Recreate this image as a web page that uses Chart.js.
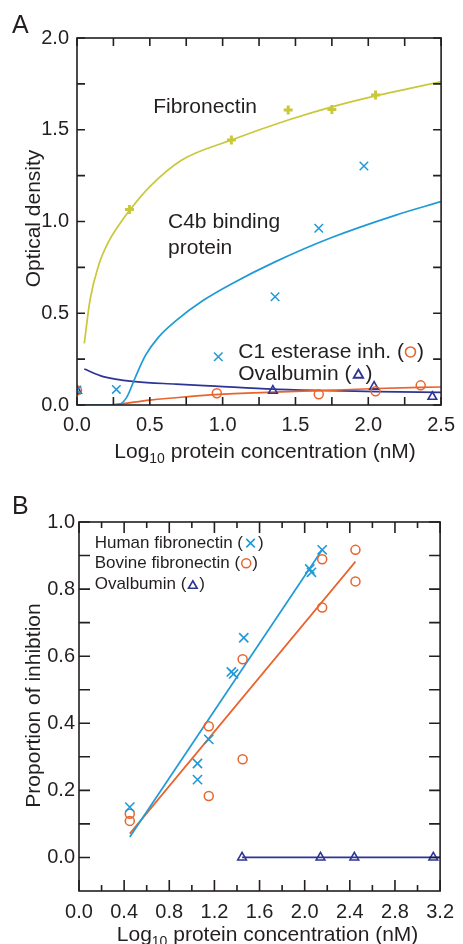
<!DOCTYPE html>
<html>
<head>
<meta charset="utf-8">
<script src="https://cdn.jsdelivr.net/npm/chart.js@4.4.1/dist/chart.umd.min.js"></script>
<style>
  html, body { margin: 0; padding: 0; background: #fff; }
  #wrapA { position: absolute; left: 0; top: 0; width: 463px; height: 470px; }
  #wrapB { position: absolute; left: 0; top: 470px; width: 463px; height: 474px; }
</style>
</head>
<body>
<div id="wrapA"><canvas id="chartA" width="463" height="470"></canvas></div>
<div id="wrapB"><canvas id="chartB" width="463" height="474"></canvas></div>
<script>
// ---- Panel A: measured points ----
const aFnX = [0.36, 1.06, 1.45, 1.75, 2.05];
const aFnY = [1.066, 1.444, 1.608, 1.61, 1.69];
const aC4X = [0, 0.27, 0.97, 1.36, 1.66, 1.97];
const aC4Y = [0.082, 0.085, 0.263, 0.59, 0.963, 1.302];
const aC1X = [0, 0.96, 1.66, 2.05, 2.36];
const aC1Y = [0.08, 0.064, 0.058, 0.075, 0.107];
const aOvX = [0, 1.345, 2.04, 2.44];
const aOvY = [0.078, 0.078, 0.1, 0.045];

// ---- Panel A: fitted curves ----
const aFnFitX = [0.05, 0.09, 0.15, 0.22, 0.3, 0.36, 0.5, 0.72, 1.06, 1.45, 1.75, 2.05, 2.5];
const aFnFitY = [0.336, 0.575, 0.765, 0.895, 0.995, 1.06, 1.19, 1.335, 1.444, 1.553, 1.625, 1.685, 1.762];
const aC4FitX = [0.05, 0.28, 0.34, 0.4, 0.47, 0.56, 0.68, 0.87, 1.06, 1.36, 1.74, 2.19, 2.5];
const aC4FitY = [0, 0, 0.04, 0.15, 0.27, 0.37, 0.46, 0.572, 0.66, 0.78, 0.91, 1.035, 1.108];
const aC1FitX = [0.05, 0.2, 0.5, 0.75, 0.95, 1.35, 1.74, 2.06, 2.5];
const aC1FitY = [0, 0, 0.027, 0.045, 0.057, 0.07, 0.08, 0.09, 0.098];
const aOvFitX = [0.05, 0.18, 0.4, 0.68, 0.95, 1.35, 1.75, 2.06, 2.5];
const aOvFitY = [0.196, 0.155, 0.127, 0.114, 0.103, 0.087, 0.078, 0.073, 0.069];

// ---- Panel A: ticks ----
const aXTicks = [0, 0.5, 1.0, 1.5, 2.0, 2.5];
const aXMinor = [0.25, 0.75, 1.25, 1.75, 2.25];
const aYTicks = [0, 0.5, 1.0, 1.5, 2.0];
const aYMinor = [0.25, 0.75, 1.25, 1.75];

// ---- Panel B: measured points ----
const bHuX = [0.45, 1.05, 1.05, 1.15, 1.35, 1.37, 1.46, 2.045, 2.06, 2.155];
const bHuY = [0.15, 0.28, 0.232, 0.352, 0.553, 0.547, 0.655, 0.86, 0.85, 0.917];
const bBoX = [0.45, 0.45, 1.15, 1.15, 1.45, 1.45, 2.155, 2.155, 2.45, 2.45];
const bBoY = [0.13, 0.109, 0.391, 0.183, 0.293, 0.591, 0.889, 0.745, 0.917, 0.823];
const bOvX = [1.445, 2.14, 2.44, 3.14];
const bOvY = [0, 0, 0, 0];

// ---- Panel B: fitted lines ----
const bHuFitX = [0.45, 2.155];
const bHuFitY = [0.061, 0.917];
const bBoFitX = [0.45, 2.45];
const bBoFitY = [0.071, 0.882];
const bOvFitX = [1.445, 3.2];
const bOvFitY = [0, 0];

// ---- Panel B: ticks ----
const bXTicks = [0, 0.4, 0.8, 1.2, 1.6, 2.0, 2.4, 2.8, 3.2];
const bXMinor = [0.2, 0.6, 1.0, 1.4, 1.8, 2.2, 2.6, 3.0];
const bYTicks = [0, 0.2, 0.4, 0.6, 0.8, 1.0];
const bYMinor = [0.1, 0.3, 0.5, 0.7, 0.9];

const FONT = "'Liberation Sans', Arial, Helvetica, sans-serif";
const INK = '#231f20';
const YEL = '#c8c83a';
const BLU = '#1f9ad6';
const ORG = '#e8642c';
const NAV = '#2e3494';

function pts(xs, ys) { return xs.map((x, i) => ({ x: x, y: ys[i] })); }

function markerSet(label, xs, ys, color, style, r, w) {
  return {
    type: 'scatter', label: label, data: pts(xs, ys), order: 0,
    pointStyle: style, pointRadius: r, pointBorderWidth: w,
    borderColor: color, backgroundColor: 'rgba(0,0,0,0)', showLine: false
  };
}

function curveSet(label, xs, ys, color) {
  return {
    type: 'line', label: label, data: pts(xs, ys), order: 1,
    borderColor: color, borderWidth: 1.7, pointRadius: 0,
    cubicInterpolationMode: 'monotone', fill: false
  };
}

function drawLabel(ctx, scales, lab) {
  let px = scales.x.getPixelForValue(lab.x);
  const py = scales.y.getPixelForValue(lab.y);
  ctx.font = lab.size + 'px ' + FONT;
  ctx.textBaseline = 'middle';
  ctx.textAlign = 'left';
  lab.parts.forEach(p => {
    if (typeof p === 'string') {
      ctx.fillStyle = INK;
      ctx.fillText(p, px, py);
      px += ctx.measureText(p).width;
    } else {
      ctx.save();
      ctx.strokeStyle = p.color;
      ctx.fillStyle = 'rgba(0,0,0,0)';
      ctx.lineWidth = p.w;
      Chart.helpers.drawPoint(ctx, { pointStyle: p.style, radius: p.r, borderWidth: p.w, rotation: 0 },
        px + p.r + 1.5, py + (p.dy || 0));
      ctx.restore();
      px += p.r * 2 + 3;
    }
  });
}

// frame, inward ticks on all sides, titles and in-plot text
const framePlugin = {
  id: 'frame',
  afterDatasetsDraw(chart, args, o) {
    const ctx = chart.ctx;
    const a = chart.chartArea;
    const sx = chart.scales.x, sy = chart.scales.y;
    ctx.save();
    ctx.strokeStyle = INK;
    ctx.lineWidth = 1.6;
    ctx.strokeRect(a.left, a.top, a.right - a.left, a.bottom - a.top);
    ctx.beginPath();
    const xt = (vals, len) => vals.forEach(v => {
      const p = sx.getPixelForValue(v);
      ctx.moveTo(p, a.bottom); ctx.lineTo(p, a.bottom - len);
      ctx.moveTo(p, a.top); ctx.lineTo(p, a.top + len);
    });
    const yt = (vals, len) => vals.forEach(v => {
      const p = sy.getPixelForValue(v);
      ctx.moveTo(a.left, p); ctx.lineTo(a.left + len, p);
      ctx.moveTo(a.right, p); ctx.lineTo(a.right - len, p);
    });
    xt(o.xMajor, o.xMajorLen); xt(o.xMinor, o.xMinorLen);
    yt(o.yMajor, o.yMajorLen); yt(o.yMinor, o.yMinorLen);
    ctx.stroke();

    // panel letter
    ctx.fillStyle = INK;
    ctx.font = o.letterSize + 'px ' + FONT;
    ctx.textAlign = 'left';
    ctx.textBaseline = 'alphabetic';
    ctx.fillText(o.letter, o.letterX, o.letterY);

    // y title
    ctx.save();
    ctx.font = '21px ' + FONT;
    ctx.translate(o.yTitleX, (a.top + a.bottom) / 2 + o.yTitleDy);
    ctx.rotate(-Math.PI / 2);
    ctx.textAlign = 'center';
    ctx.fillText(o.yTitle, 0, 0);
    ctx.restore();

    // x title with subscript
    const main = '21px ' + FONT, sub = '14px ' + FONT;
    ctx.font = main;
    const w1 = ctx.measureText('Log').width;
    const w3 = ctx.measureText(' protein concentration (nM)').width;
    ctx.font = sub;
    const w2 = ctx.measureText('10').width;
    let tx = (a.left + a.right) / 2 + o.xTitleDx - (w1 + w2 + w3) / 2;
    ctx.font = main;
    ctx.fillText('Log', tx, o.xTitleY);
    tx += w1;
    ctx.font = sub;
    ctx.fillText('10', tx, o.xTitleY + 5);
    tx += w2;
    ctx.font = main;
    ctx.fillText(' protein concentration (nM)', tx, o.xTitleY);

    o.labels.forEach(l => drawLabel(ctx, chart.scales, l));
    ctx.restore();
  }
};

function axis(min, max, ticks, fit, pad) {
  return {
    type: 'linear', min: min, max: max,
    afterBuildTicks: s => { s.ticks = ticks.map(v => ({ value: v })); },
    afterFit: fit,
    grid: { display: false, drawTicks: false },
    border: { display: false },
    ticks: {
      color: INK, padding: pad, font: { family: FONT, size: 20 },
      callback: v => Number(v).toFixed(1), maxRotation: 0, autoSkip: false
    }
  };
}

new Chart(document.getElementById('chartA'), {
  type: 'scatter',
  data: {
    datasets: [
      curveSet('Fibronectin fit', aFnFitX, aFnFitY, YEL),
      curveSet('C4b fit', aC4FitX, aC4FitY, BLU),
      curveSet('C1 fit', aC1FitX, aC1FitY, ORG),
      curveSet('Ovalbumin fit', aOvFitX, aOvFitY, NAV),
      markerSet('Fibronectin', aFnX, aFnY, YEL, 'cross', 4.5, 3),
      markerSet('C4b binding protein', aC4X, aC4Y, BLU, 'crossRot', 6, 1.5),
      markerSet('C1 esterase inh.', aC1X, aC1Y, ORG, 'circle', 4.5, 1.5),
      markerSet('Ovalbumin', aOvX, aOvY, NAV, 'triangle', 5, 1.6)
    ]
  },
  options: {
    responsive: false,
    animation: false,
    layout: { padding: { top: 38, right: 18, left: 0, bottom: 0 } },
    plugins: {
      legend: { display: false },
      tooltip: { enabled: false },
      frame: {
        xMajor: aXTicks, xMinor: aXMinor, yMajor: aYTicks, yMinor: aYMinor,
        xMajorLen: 8, xMinorLen: 8, yMajorLen: 8, yMinorLen: 8,
        letter: 'A', letterSize: 25, letterX: 12, letterY: 33,
        yTitle: 'Optical density', yTitleX: 40, yTitleDy: -3,
        xTitleDx: 6, xTitleY: 458,
        labels: [
          { x: 0.523, y: 1.624, size: 21, parts: ['Fibronectin'] },
          { x: 0.625, y: 0.997, size: 21, parts: ['C4b binding'] },
          { x: 0.625, y: 0.856, size: 21, parts: ['protein'] },
          { x: 1.107, y: 0.289, size: 21, parts: ['C1 esterase inh. (', { style: 'circle', r: 5, w: 1.6, color: ORG }, ')'] },
          { x: 1.107, y: 0.169, size: 21, parts: ['Ovalbumin (', { style: 'triangle', r: 5.5, w: 1.8, color: NAV, dy: 1 }, ')'] }
        ]
      }
    },
    scales: {
      x: axis(0, 2.5, aXTicks, s => { s.height = 65; }, 8),
      y: axis(0, 2.0, aYTicks, s => { s.width = 77; }, 8)
    }
  },
  plugins: [framePlugin]
});

new Chart(document.getElementById('chartB'), {
  type: 'scatter',
  data: {
    datasets: [
      curveSet('Human fit', bHuFitX, bHuFitY, BLU),
      curveSet('Bovine fit', bBoFitX, bBoFitY, ORG),
      curveSet('Ovalbumin fit', bOvFitX, bOvFitY, NAV),
      markerSet('Human fibronectin', bHuX, bHuY, BLU, 'crossRot', 6.5, 1.6),
      markerSet('Bovine fibronectin', bBoX, bBoY, ORG, 'circle', 4.5, 1.5),
      markerSet('Ovalbumin', bOvX, bOvY, NAV, 'triangle', 5, 1.6)
    ]
  },
  options: {
    responsive: false,
    animation: false,
    layout: { padding: { top: 52, right: 16, left: 0, bottom: 0 } },
    plugins: {
      legend: { display: false },
      tooltip: { enabled: false },
      frame: {
        xMajor: bXTicks, xMinor: bXMinor, yMajor: bYTicks, yMinor: bYMinor,
        xMajorLen: 11, xMinorLen: 6, yMajorLen: 11, yMinorLen: 11,
        letter: 'B', letterSize: 25, letterX: 12, letterY: 44,
        yTitle: 'Proportion of inhibtion', yTitleX: 40, yTitleDy: -1,
        xTitleDx: 8, xTitleY: 471,
        labels: [
          { x: 0.139, y: 0.937, size: 17, parts: ['Human fibronectin (', { style: 'crossRot', r: 6, w: 1.6, color: BLU }, ')'] },
          { x: 0.139, y: 0.877, size: 17, parts: ['Bovine fibronectin (', { style: 'circle', r: 4.5, w: 1.5, color: ORG }, ')'] },
          { x: 0.139, y: 0.813, size: 17, parts: ['Ovalbumin (', { style: 'triangle', r: 5, w: 1.6, color: NAV, dy: 1 }, ')'] }
        ]
      }
    },
    scales: {
      x: axis(0, 3.2, bXTicks, s => { s.height = 53; }, 9),
      y: axis(-0.1, 1.0, bYTicks, s => { s.width = 79; }, 4)
    }
  },
  plugins: [framePlugin]
});
</script>
</body>
</html>
